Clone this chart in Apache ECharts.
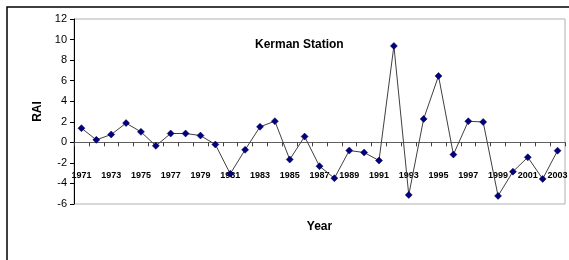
<!DOCTYPE html>
<html>
<head>
<meta charset="utf-8">
<script src="https://cdn.jsdelivr.net/npm/echarts@6/dist/echarts.min.js"></script>
<style>
	html, body {margin:0; padding:0; background:#ffffff;}
	#main {width:569px; height:260px;}
</style>
</head>
<body>
<div id="main"></div>
<script>
// 年份（类目轴）
var years = ['1971','1972','1973','1974','1975','1976','1977','1978','1979','1980',
	'1981','1982','1983','1984','1985','1986','1987','1988','1989','1990',
	'1991','1992','1993','1994','1995','1996','1997','1998','1999','2000',
	'2001','2002','2003'];

// RAI 指数
var raiValues = [1.38, 0.24, 0.76, 1.87, 1.02, -0.34, 0.86, 0.86, 0.66, -0.21,
	-3.06, -0.73, 1.51, 2.06, -1.67, 0.56, -2.32, -3.49, -0.80, -0.99,
	-1.77, 9.38, -5.12, 2.28, 6.46, -1.19, 2.05, 1.98, -5.21, -2.85,
	-1.45, -3.56, -0.81];

// Y 轴刻度
var yMin = -6, yMax = 12, yStep = 2;

var font = 'Liberation Sans, Arial, sans-serif';

var chart = echarts.init(document.getElementById('main'));
var option = {
	animation: false,
	backgroundColor: '#ffffff',
	title: {
		text: 'Kerman Station',
		left: 250,
		top: 34,
		textStyle: {fontFamily: font, fontSize: 12, fontWeight: 'bold', color: '#000'}
	},
	graphic: [{
		// 外边框
		type: 'rect',
		shape: {x: 7, y: 7, width: 620, height: 320},
		style: {fill: 'none', stroke: '#000', lineWidth: 1.5},
		silent: true
	}],
	grid: {
		show: true,
		left: 74,
		top: 19,
		right: 4,
		bottom: 56,
		containLabel: false,
		outerBoundsMode: 'none',
		borderColor: '#b0b0b0',
		borderWidth: 1
	},
	xAxis: {
		type: 'category',
		data: years,
		boundaryGap: true,
		name: 'Year',
		nameLocation: 'middle',
		nameGap: 17,
		nameTextStyle: {fontFamily: font, fontSize: 12, fontWeight: 'bold', color: '#000'},
		axisLine: {onZero: true, lineStyle: {color: '#606060', width: 1}},
		axisTick: {show: true, interval: 0, length: 4, lineStyle: {color: '#404040'}},
		axisLabel: {
			interval: 1,
			margin: -33,
			fontFamily: font,
			fontSize: 9,
			fontWeight: 'bold',
			color: '#000'
		},
		splitLine: {show: false}
	},
	yAxis: {
		type: 'value',
		min: yMin,
		max: yMax,
		interval: yStep,
		name: 'RAI',
		nameLocation: 'middle',
		nameGap: 29,
		nameRotate: 90,
		nameTextStyle: {fontFamily: font, fontSize: 12, fontWeight: 'bold', color: '#000'},
		axisLine: {show: true, lineStyle: {color: '#000', width: 1}},
		axisTick: {show: true, length: 4, lineStyle: {color: '#000'}},
		axisLabel: {margin: 7, fontFamily: font, fontSize: 11, color: '#000'},
		splitLine: {show: false}
	},
	series: [{
		type: 'line',
		data: raiValues,
		symbol: 'diamond',
		symbolSize: 7,
		showAllSymbol: true,
		lineStyle: {color: '#404040', width: 1},
		itemStyle: {color: '#000080', borderColor: '#000040', borderWidth: 0.5}
	}]
};
chart.setOption(option);
</script>
</body>
</html>
